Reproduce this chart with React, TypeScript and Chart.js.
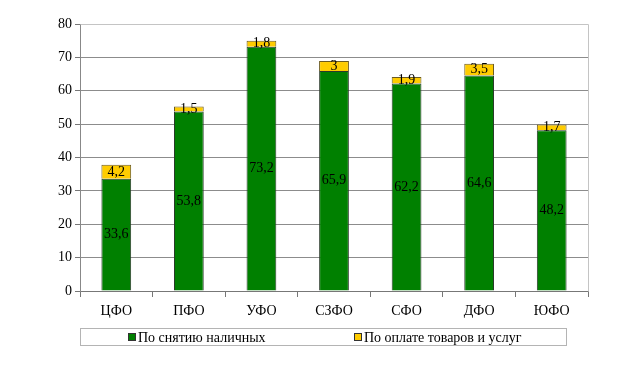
import React, { useEffect, useRef } from "react";
import { Chart, registerables } from "chart.js";

Chart.register(...registerables);

const categories = ["ЦФО", "ПФО", "УФО", "СЗФО", "СФО", "ДФО", "ЮФО"];
const cashValues = [33.6, 53.8, 73.2, 65.9, 62.2, 64.6, 48.2];
const purchaseValues = [4.2, 1.5, 1.8, 3, 1.9, 3.5, 1.7];
const seriesNames = ["По снятию наличных", "По оплате товаров и услуг"];
const seriesColors = ["#008000", "#FFCC00"];
const yMax = 80;
const yStep = 10;

const FONT = "'Liberation Serif', 'Times New Roman', serif";
const FS = 14;

const fmt = (v: number) => String(v).replace(".", ",");

const labelsPlugin = {
  id: "barLabels",
  afterDatasetsDraw(chart: any) {
    const ctx = chart.ctx;
    ctx.save();
    ctx.font = `${FS}px ${FONT}`;
    ctx.fillStyle = "#000";
    ctx.textAlign = "center";
    ctx.textBaseline = "middle";
    chart.data.datasets.forEach((ds: any, di: number) => {
      const meta = chart.getDatasetMeta(di);
      meta.data.forEach((el: any, i: number) => {
        const p = el.getProps(["x", "y", "base"], true);
        ctx.fillText(fmt(ds.data[i]), p.x, (p.y + p.base) / 2);
      });
    });
    ctx.restore();
  },
};

const frameAndLegendPlugin = {
  id: "frameLegend",
  afterDraw(chart: any) {
    const ctx = chart.ctx;
    const a = chart.chartArea;
    ctx.save();
    // plot frame top & right
    ctx.strokeStyle = "#c4c4c4";
    ctx.lineWidth = 1;
    ctx.beginPath();
    ctx.moveTo(Math.round(a.left) + 0.5, Math.round(a.top) + 0.5);
    ctx.lineTo(Math.round(a.right) + 0.5, Math.round(a.top) + 0.5);
    ctx.lineTo(Math.round(a.right) + 0.5, Math.round(a.bottom) + 0.5);
    ctx.stroke();

    // legend box
    const bx = Math.round(a.left) + 0.5;
    const by = 328.5;
    const bw = 486;
    const bh = 17;
    ctx.strokeStyle = "#b4b4b4";
    ctx.strokeRect(bx, by, bw, bh);

    const itemX = [128, 354];
    ctx.font = `${FS}px ${FONT}`;
    ctx.textBaseline = "middle";
    ctx.textAlign = "left";
    chart.data.datasets.forEach((ds: any, i: number) => {
      const x = itemX[i];
      ctx.fillStyle = ds.backgroundColor;
      ctx.fillRect(x, 333, 8, 8);
      ctx.strokeStyle = "#333";
      ctx.strokeRect(x + 0.5, 333.5, 7, 7);
      ctx.fillStyle = "#000";
      ctx.fillText(ds.label, x + 10, 338);
    });
    ctx.restore();
  },
};

export default function App() {
  const ref = useRef<HTMLCanvasElement | null>(null);

  useEffect(() => {
    if (!ref.current) return;
    const chart = new Chart(ref.current, {
      type: "bar",
      data: {
        labels: categories,
        datasets: [
          {
            label: seriesNames[0],
            data: cashValues,
            backgroundColor: seriesColors[0],
            borderColor: "#2a3a2a",
            borderWidth: 1,
            barPercentage: 0.41,
            categoryPercentage: 1,
          },
          {
            label: seriesNames[1],
            data: purchaseValues,
            backgroundColor: seriesColors[1],
            borderColor: "#6b5a20",
            borderWidth: 1,
            barPercentage: 0.41,
            categoryPercentage: 1,
          },
        ],
      },
      options: {
        responsive: false,
        animation: false,
        layout: { padding: { top: 24, right: 33, left: 0, bottom: 48 } },
        plugins: {
          legend: { display: false },
          tooltip: { enabled: false },
        },
        scales: {
          x: {
            stacked: true,
            afterFit: (s: any) => {
              s.height = 30;
            },
            grid: {
              offset: true,
              drawOnChartArea: false,
              drawTicks: true,
              tickLength: 6,
              tickColor: "#777",
            },
            border: { color: "#777", width: 1 },
            ticks: {
              color: "#000",
              padding: 6,
              font: { family: FONT, size: FS },
              maxRotation: 0,
            },
          },
          y: {
            stacked: true,
            min: 0,
            max: yMax,
            afterFit: (s: any) => {
              s.width = 80;
            },
            grid: {
              color: (c: any) => (c.tick && c.tick.value === yMax ? "#c4c4c4" : "#8c8c8c"),
              tickColor: "#777",
              tickLength: 5,
            },
            border: { color: "#888", width: 1 },
            ticks: {
              stepSize: yStep,
              color: "#000",
              padding: 3,
              font: { family: FONT, size: FS },
            },
          },
        },
      },
      plugins: [labelsPlugin, frameAndLegendPlugin],
    });
    return () => chart.destroy();
  }, []);

  return (
    <div style={{ position: "fixed", left: 0, top: 0, width: 621, height: 369, background: "#fff" }}>
      <canvas ref={ref} width={621} height={369} />
    </div>
  );
}
